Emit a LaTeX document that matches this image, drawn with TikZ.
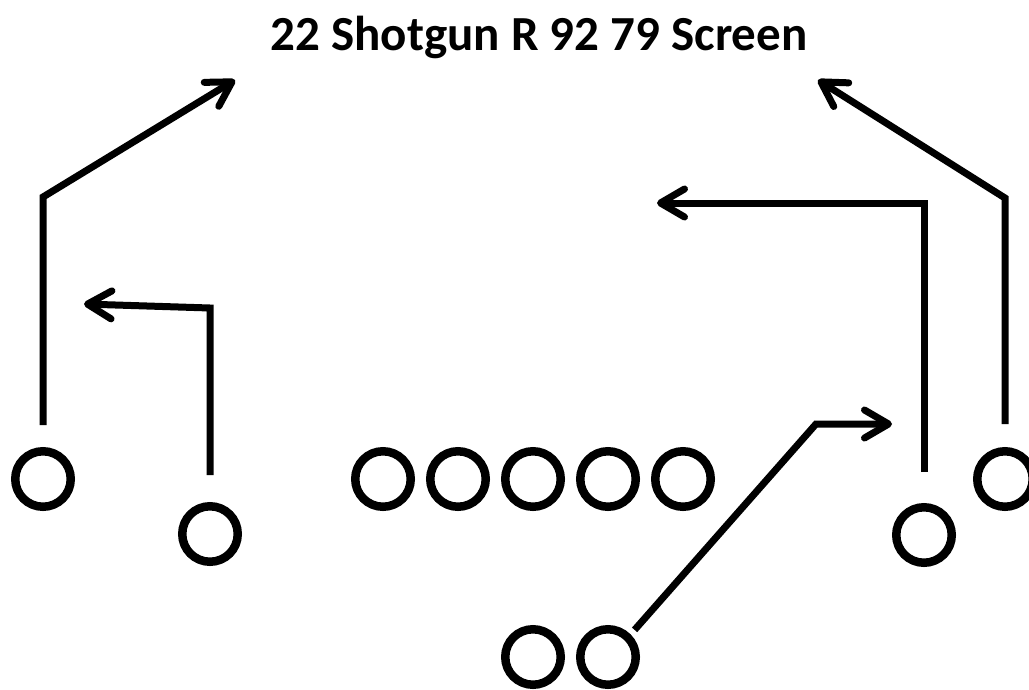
\documentclass[tikz,border=0pt]{standalone}
\usepackage{fontspec}
\setmainfont{Carlito}
\usetikzlibrary{arrows.meta}
\begin{document}
\begin{tikzpicture}[x=1pt,y=-1pt,
  player/.style={circle,draw=black,line width=8.5pt,minimum size=55.5pt,inner sep=0pt},
  route/.style={draw=black,line width=7pt,-{Straight Barb[length=24pt,width=28pt,round]}},
  title/.style={font=\bfseries\fontsize{49}{55}\selectfont,anchor=base,inner sep=0pt}]
\useasboundingbox (0,0) rectangle (1029,689);
\node[title] (t) at (539,50) {22 Shotgun R 92 79 Screen};
% offensive line
\node[player] (ol1) at (383,479) {};
\node[player] (ol2) at (458,479) {};
\node[player] (ol3) at (533,479) {};
\node[player] (ol4) at (608,479) {};
\node[player] (ol5) at (683,479) {};
% receivers and backs
\node[player] (wrl) at (43,479) {};
\node[player] (sl) at (210,534) {};
\node[player] (sr) at (924,535) {};
\node[player] (wrr) at (1005,479) {};
\node[player] (qb) at (533,657) {};
\node[player] (rb) at (608,657) {};
% route points
\coordinate (c1) at (43,197);
\coordinate (e1) at (235,80);
\coordinate (c2) at (210,308);
\coordinate (e2) at (84,304);
\coordinate (c3) at (924,203);
\coordinate (e3) at (657,203);
\coordinate (c4) at (1005,198);
\coordinate (e4) at (818,80);
\coordinate (c5) at (816,424);
\coordinate (e5) at (892,424);
% routes
\draw[route,shorten <=22pt] (wrl.north) -- (c1) -- (e1);
\draw[route,shorten <=27pt] (sl.north) -- (c2) -- (e2);
\draw[route,shorten <=31pt] (sr.north) -- (c3) -- (e3);
\draw[route,shorten <=23pt] (wrr.north) -- (c4) -- (e4);
\draw[route,shorten <=6pt] (rb.north east) -- (c5) -- (e5);
\end{tikzpicture}
\end{document}
